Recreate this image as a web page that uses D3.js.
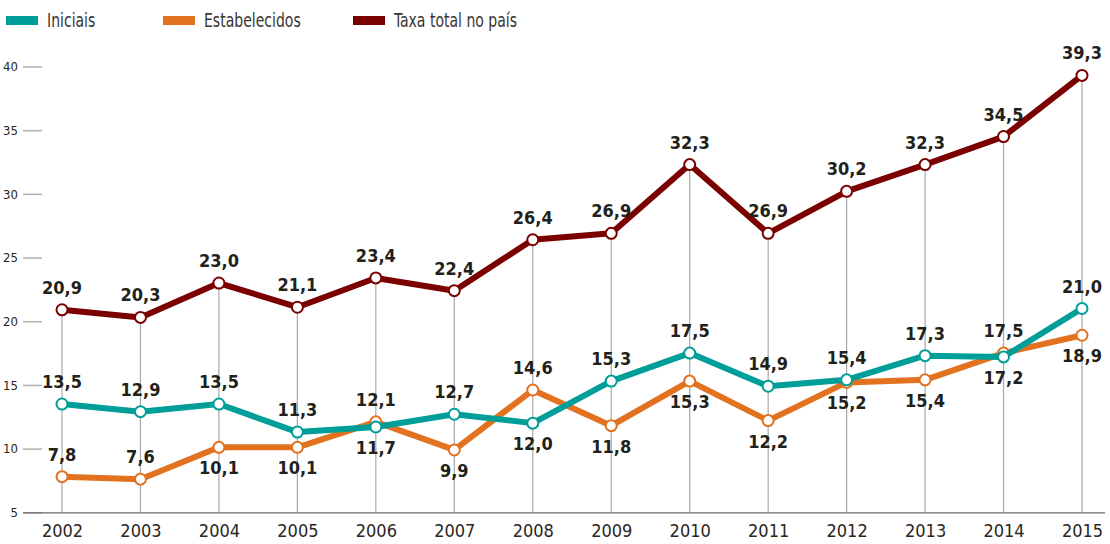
<!DOCTYPE html>
<html>
<head>
<meta charset="utf-8">
<script src="https://cdn.jsdelivr.net/npm/d3@7"></script>
<style>
  body { margin: 0; background: #fff; }
  svg { display: block; font-family: "DejaVu Sans Condensed", "Liberation Sans Narrow", sans-serif; }
</style>
</head>
<body>
<div id="chart"></div>
<script>
(function () {
    // data
    const years = [2002, 2003, 2004, 2005, 2006, 2007, 2008, 2009, 2010, 2011, 2012, 2013, 2014, 2015];
    const iniciais = [13.5, 12.9, 13.5, 11.3, 11.7, 12.7, 12.0, 15.3, 17.5, 14.9, 15.4, 17.3, 17.2, 21.0];
    const estabelecidos = [7.8, 7.6, 10.1, 10.1, 12.1, 9.9, 14.6, 11.8, 15.3, 12.2, 15.2, 15.4, 17.5, 18.9];
    const taxaTotal = [20.9, 20.3, 23.0, 21.1, 23.4, 22.4, 26.4, 26.9, 32.3, 26.9, 30.2, 32.3, 34.5, 39.3];
    const yTicks = [5, 10, 15, 20, 25, 30, 35, 40];

    // which labels sit under their point
    const iniciaisBelow = [2006, 2008, 2014];
    const estabelecidosBelow = [2004, 2005, 2007, 2009, 2010, 2011, 2012, 2013, 2015];

    const series = [
        { name: "Iniciais", values: iniciais, color: "#009e99", below: iniciaisBelow },
        { name: "Estabelecidos", values: estabelecidos, color: "#e2721f", below: estabelecidosBelow },
        { name: "Taxa total no país", values: taxaTotal, color: "#7b0000", below: [] }
    ];
    // drawing order: orange under teal
    const drawOrder = [series[1], series[0], series[2]];

    const W = 1110, H = 544;
    const svg = d3.select("#chart").append("svg")
        .attr("width", W).attr("height", H);

    const x = d3.scalePoint().domain(years).range([62, 1082]);
    const y = d3.scaleLinear().domain([5, 40]).range([512.3, 66.5]);

    const fmt = v => d3.format(".1f")(v).replace(".", ",");

    // y axis ticks
    const yAxis = svg.append("g")
        .attr("transform", "translate(42,0)")
        .call(d3.axisLeft(y).tickValues(yTicks).tickSize(19).tickPadding(5).tickFormat(d3.format("d")));
    yAxis.select(".domain").remove();
    yAxis.selectAll(".tick line").attr("stroke", "#b0b0b0").attr("stroke-width", 1.5);
    yAxis.selectAll(".tick text").attr("fill", "#2a2622").style("font-size", "13px")
        .style("font-family", "'DejaVu Sans Condensed', sans-serif");

    // drop lines
    svg.append("g").selectAll("line")
        .data(years)
        .join("line")
        .attr("x1", d => x(d)).attr("x2", d => x(d))
        .attr("y1", (d, i) => y(taxaTotal[i]))
        .attr("y2", y(5))
        .attr("stroke", "#a8a8a8")
        .attr("stroke-width", 1.2);

    // bottom axis
    const xAxis = svg.append("g")
        .attr("transform", `translate(0,${y(5)})`)
        .call(d3.axisBottom(x).tickSize(0).tickPadding(12));
    xAxis.select(".domain").attr("d", "M23,0.5H1105").attr("stroke", "#6a6a6a").attr("stroke-width", 1.3);
    xAxis.selectAll(".tick text").attr("fill", "#2a2622").style("font-size", "18px")
        .style("font-family", "'DejaVu Sans Condensed', sans-serif");

    const line = d3.line()
        .x((d, i) => x(years[i]))
        .y(d => y(d));

    // lines and points
    drawOrder.forEach(s => {
        const g = svg.append("g");
        g.append("path")
            .datum(s.values)
            .attr("d", line)
            .attr("fill", "none")
            .attr("stroke", s.color)
            .attr("stroke-width", 6)
            .attr("stroke-linejoin", "round");
        g.selectAll("circle")
            .data(s.values)
            .join("circle")
            .attr("cx", (d, i) => x(years[i]))
            .attr("cy", d => y(d))
            .attr("r", 5.5)
            .attr("fill", "#fff")
            .attr("stroke", s.color)
            .attr("stroke-width", 2);
    });

    // labels
    series.forEach(s => {
        svg.append("g").selectAll("text")
            .data(s.values)
            .join("text")
            .attr("x", (d, i) => x(years[i]))
            .attr("y", (d, i) => s.below.includes(years[i]) ? y(d) + 27 : y(d) - 16)
            .attr("text-anchor", "middle")
            .attr("fill", "#231f1a")
            .style("font-size", "18px")
            .style("font-weight", "bold")
            .text(d => fmt(d));
    });

    // legend (condensed look via horizontal squeeze)
    const legendX = [6, 163, 353];
    const legend = svg.append("g").selectAll("g")
        .data(series)
        .join("g")
        .attr("transform", (d, i) => `translate(${legendX[i]},0)`);
    legend.append("rect")
        .attr("x", 0).attr("y", 16)
        .attr("width", 32).attr("height", 9)
        .attr("fill", d => d.color);
    legend.append("text")
        .attr("transform", "translate(41,27) scale(0.78,1)")
        .attr("fill", "#3a3530")
        .style("font-size", "20px")
        .text(d => d.name);
})();
</script>
</body>
</html>
